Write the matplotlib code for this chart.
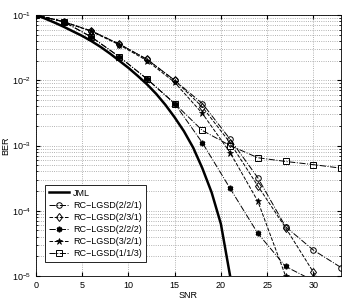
import matplotlib.pyplot as plt
from matplotlib.ticker import LogLocator, NullFormatter

plt.rcParams['font.family'] = ['Liberation Sans', 'DejaVu Sans']
plt.rcParams['mathtext.fontset'] = 'custom'
plt.rcParams['mathtext.rm'] = 'Liberation Sans'

# JML curve
jml_snr = list(range(0, 22))
jml_ber = [1.0e-1, 8.81e-2, 7.67e-2, 6.61e-2, 5.62e-2, 4.79e-2, 3.98e-2, 3.24e-2, 2.57e-2,
           2.0e-2, 1.55e-2, 1.17e-2, 8.7e-3, 6.2e-3, 4.2e-3, 2.7e-3, 1.66e-3,
           9.3e-4, 4.47e-4, 1.91e-4, 6.3e-5, 1.0e-5]

# RC-LGSD curves
snr = [0, 3, 6, 9, 12, 15, 18, 21, 24, 27, 30, 33]
ber_221 = [1.0e-1, 7.9e-2, 5.7e-2, 3.6e-2, 2.1e-2, 1.0e-2, 4.4e-3, 1.25e-3, 3.2e-4, 5.7e-5, 2.5e-5, 1.35e-5]
ber_231 = [1.0e-1, 7.9e-2, 5.7e-2, 3.6e-2, 2.1e-2, 1.0e-2, 3.9e-3, 1.1e-3, 2.4e-4, 5.5e-5, 1.15e-5, 2.5e-6]
ber_222 = [1.0e-1, 7.9e-2, 4.6e-2, 2.3e-2, 1.05e-2, 4.4e-3, 1.1e-3, 2.2e-4, 4.5e-5, 1.4e-5, 8.5e-6, 5.0e-6]
ber_321 = [1.0e-1, 7.9e-2, 5.6e-2, 3.5e-2, 2.0e-2, 9.3e-3, 3.1e-3, 7.8e-4, 1.4e-4, 1.0e-5, 3.0e-6, 1.0e-6]
ber_113 = [1.0e-1, 7.9e-2, 4.6e-2, 2.3e-2, 1.05e-2, 4.4e-3, 1.7e-3, 1.0e-3, 6.5e-4, 5.7e-4, 5.1e-4, 4.5e-4]

fig = plt.figure(figsize=(3.58, 3.01), dpi=100)
ax = fig.add_axes([0.1006, 0.083, 0.852, 0.867])

ax.semilogy(jml_snr, jml_ber, 'k-', lw=1.8, label='JML')
ax.semilogy(snr, ber_221, 'k-.', marker='o', ms=4, mfc='none', mew=0.7, lw=0.7, label='RC\u2212LGSD(2/2/1)')
ax.semilogy(snr, ber_231, 'k--', marker='d', ms=4.5, mfc='none', mew=0.7, lw=0.7, label='RC\u2212LGSD(2/3/1)')
ax.semilogy(snr, ber_222, 'k-.', marker=(6, 2, 0), ms=4, mew=1.2, lw=0.7, label='RC\u2212LGSD(2/2/2)')
ax.semilogy(snr, ber_321, 'k--', marker='*', ms=5, mew=0.5, lw=0.7, label='RC\u2212LGSD(3/2/1)')
ax.semilogy(snr, ber_113, 'k-.', marker='s', ms=4, mfc='none', mew=0.7, lw=0.7, label='RC\u2212LGSD(1/1/3)')

ax.set_xlim(0, 33)
ax.set_ylim(1e-5, 1e-1)
ax.set_xticks([0, 5, 10, 15, 20, 25, 30])
ax.yaxis.set_major_locator(LogLocator(base=10, numticks=10))
ax.yaxis.set_minor_locator(LogLocator(base=10, subs=range(2, 10), numticks=10))
ax.yaxis.set_minor_formatter(NullFormatter())
ax.tick_params(which='both', direction='in', labelsize=6.5, top=True, right=True)
ax.tick_params(which='major', length=3)
ax.tick_params(which='minor', length=1.5)
ax.grid(True, which='major', ls=':', color='#999999', lw=0.6)
ax.grid(True, which='minor', ls=':', color='#999999', lw=0.6)
for s in ax.spines.values():
    s.set_linewidth(0.6)

ax.set_xlabel('SNR', fontsize=6.5, labelpad=1)
ax.set_ylabel('BER', fontsize=6.5, labelpad=1)

leg = ax.legend(loc='lower left', bbox_to_anchor=(0.03, 0.054), borderaxespad=0,
                fontsize=6.5, fancybox=False, framealpha=1, edgecolor='k',
                handlelength=2.2, labelspacing=0.35, borderpad=0.4, handletextpad=0.5)
leg.get_frame().set_linewidth(0.6)

fig.savefig('out.png', dpi=100)
